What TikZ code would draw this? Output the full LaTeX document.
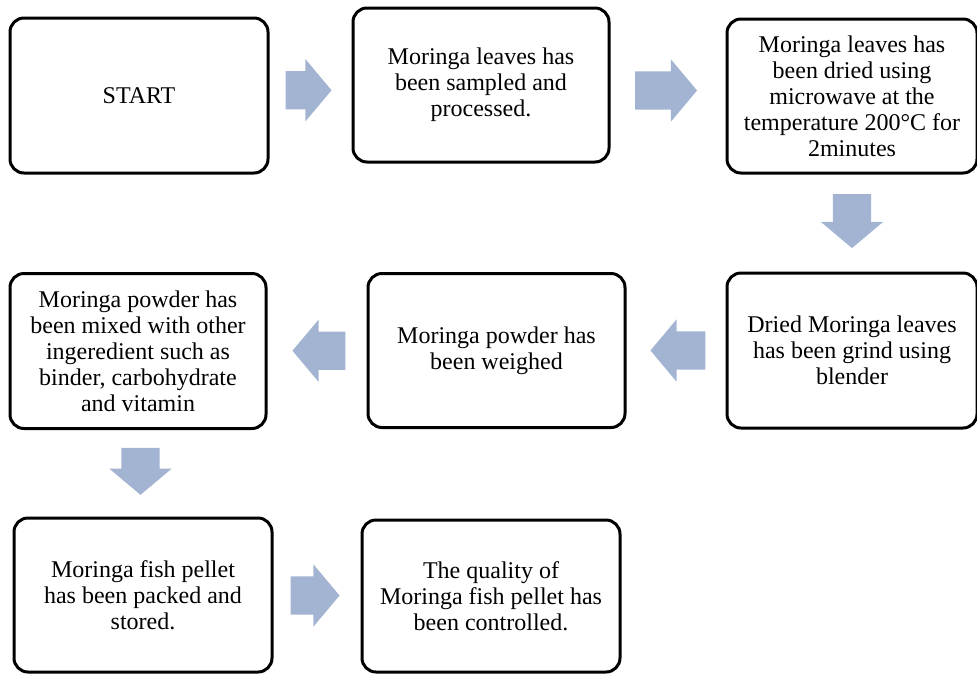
\documentclass[tikz,border=0pt]{standalone}
\usepackage{fontspec}
\setmainfont{Liberation Serif}
\usetikzlibrary{shapes.arrows,calc}
\definecolor{flowblue}{RGB}{163,179,210}

\begin{document}
\begin{tikzpicture}[x=1pt,y=1pt]
        \tikzstyle{every node}+=[inner sep=0pt]
        \tikzstyle{stepbox}=[draw=black,line width=3pt,rounded corners=14pt,align=center,minimum width=256pt,minimum height=154pt,font=\fontsize{24}{26}\selectfont]
        \tikzset{blockarrow/.style={single arrow,draw=none,fill=flowblue,inner xsep=0pt,inner ysep=19pt,minimum width=62pt,single arrow head extend=12pt,single arrow tip angle=100,rotate=#1,xshift=-10pt},blockarrow/.default=0}
        \useasboundingbox (0,0) rectangle (977,-673);
        \node [stepbox,minimum width=258pt,minimum height=155pt] (start) at (139,-95.5) {START};
        \node [stepbox] (sampled) at (481,-85) {Moringa leaves has\\been sampled and\\processed.};
        \node [stepbox,minimum width=250pt] (dried) at (852,-96) {Moringa leaves has\\been dried using\\microwave at the\\temperature 200°C for\\2minutes};
        \node [stepbox,minimum width=250pt,minimum height=155pt] (grind) at (852,-350.5) {Dried Moringa leaves\\has been grind using\\blender};
        \node [stepbox,minimum width=257pt] (weighed) at (496.5,-350.5) {Moringa powder has\\been weighed};
        \node [stepbox,minimum height=155pt] (mixed) at (138,-351) {Moringa powder has\\been mixed with other\\ingeredient such as\\binder, carbohydrate\\and vitamin};
        \node [stepbox,minimum width=258pt] (packed) at (143,-595) {Moringa fish pellet\\has been packed and\\stored.};
        \node [stepbox,minimum width=258pt,minimum height=152pt] (quality) at (491,-596) {The quality of\\Moringa fish pellet has\\been controlled.};
        \node [blockarrow,minimum height=46pt] (arr1) at ($(start.east)!0.5!(sampled.west)$) {};
        \node [blockarrow,minimum height=62pt] (arr2) at ($(sampled.east)!0.5!(dried.west)$) {};
        \node [blockarrow=270,minimum height=54pt] (arr3) at ($(dried.south)!0.5!(grind.north)$) {};
        \node [blockarrow=180,minimum height=55pt] (arr4) at ($(grind.west)!0.5!(weighed.east)$) {};
        \node [blockarrow=180,minimum height=53pt] (arr5) at ($(weighed.west)!0.5!(mixed.east)$) {};
        \node [blockarrow=270,minimum height=47pt] (arr6) at ($(mixed.south)!0.5!(packed.north)$) {};
        \node [blockarrow,minimum height=49pt] (arr7) at ($(packed.east)!0.5!(quality.west)$) {};
      \end{tikzpicture}
\end{document}
